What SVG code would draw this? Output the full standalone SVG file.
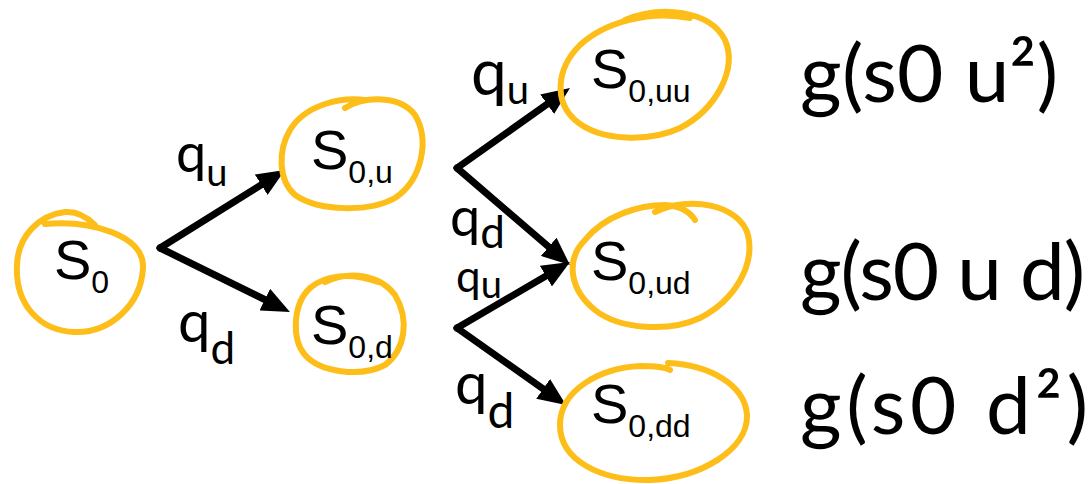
<svg xmlns="http://www.w3.org/2000/svg" width="1090" height="484" viewBox="0 0 1090 484">
  <style>
    .ring { fill: none; stroke: #FEBE1A; stroke-width: 6; stroke-linecap: round; stroke-linejoin: round; }
    .st { font-family: "Liberation Sans", Arial, sans-serif; font-size: 56px; fill: #000; }
    .sub { font-size: 32px; }
    .edge { stroke: #000; stroke-width: 7; stroke-linecap: round; fill: none; marker-end: url(#head); }
    .hand { font-family: "Lato", "DejaVu Sans", sans-serif; font-weight: 400; fill: #000; }
  </style>
  <defs>
    <marker id="head" markerUnits="userSpaceOnUse" markerWidth="28" markerHeight="24" refX="10" refY="12" orient="auto">
      <path d="M0,0 L28,12 L0,24 z" fill="#000"/>
    </marker>
  </defs>
  <rect width="1090" height="484" fill="#fff"/>

  <!-- connectors -->
  <g id="connectors">
    <line class="edge" x1="160" y1="248" x2="269.7" y2="179.5"/>
    <line class="edge" x1="160" y1="248" x2="273.8" y2="304"/>
    <line class="edge" x1="457" y1="168" x2="555.3" y2="98.4"/>
    <line class="edge" x1="457" y1="168" x2="556.3" y2="253.3"/>
    <line class="edge" x1="457" y1="328" x2="554.5" y2="271.1"/>
    <line class="edge" x1="457" y1="328" x2="551.3" y2="394.6"/>
  </g>

  <!-- branch probabilities -->
  <g id="edge-labels" class="hand">
    <text x="176" y="172" font-size="54">q<tspan font-size="38" dy="14">u</tspan></text>
    <text x="178" y="342" font-size="58">q<tspan font-size="44" dy="22">d</tspan></text>
    <text x="471" y="95" font-size="64">q<tspan font-size="40" dy="9">u</tspan></text>
    <text x="450" y="236" font-size="54">q<tspan font-size="44" dy="12">d</tspan></text>
    <text x="456" y="292" font-size="44">q<tspan font-size="38" dy="6">u</tspan></text>
    <text x="455" y="404" font-size="58">q<tspan font-size="48" dy="24">d</tspan></text>
  </g>

  <!-- nodes -->
  <g id="node-s0">
    <path class="ring" d="M45 224 C90 220,145 235,143 268 C141 305,110 333,75 332 C40 331,15 305,17 265 C18 235,40 215,65 212 C78 211,88 218,95 225"/>
    <text class="st" x="54" y="279">S<tspan class="sub" dy="14">0</tspan></text>
  </g>
  <g id="node-s0u">
    <path class="ring" d="M345 108 C365 96,400 95,415 115 C430 140,422 180,395 198 C370 212,320 212,295 195 C278 180,278 150,290 130 C305 105,340 97,365 100"/>
    <text class="st" x="311" y="169">S<tspan class="sub" dy="14">0,u</tspan></text>
  </g>
  <g id="node-s0d">
    <path class="ring" d="M325 282 C350 270,380 275,395 295 C410 320,405 350,385 365 C360 378,320 372,305 355 C292 340,292 305,310 288 C325 275,350 272,378 282"/>
    <text class="st" x="311" y="344">S<tspan class="sub" dy="14">0,d</tspan></text>
  </g>
  <g id="node-s0uu">
    <path class="ring" d="M625 20 C660 5,710 10,725 40 C738 70,715 110,680 128 C650 142,600 142,575 120 C555 102,555 70,580 45 C605 22,650 10,690 18"/>
    <text class="st" x="591" y="88">S<tspan class="sub" dy="14">0,uu</tspan></text>
  </g>
  <g id="node-s0ud">
    <path class="ring" d="M655 212 C690 195,740 205,748 235 C755 265,735 300,700 318 C670 332,620 330,595 310 C570 290,565 260,585 240 C605 215,640 205,665 205 C680 206,690 212,695 220"/>
    <text class="st" x="591" y="280">S<tspan class="sub" dy="14">0,ud</tspan></text>
  </g>
  <g id="node-s0dd">
    <path class="ring" d="M668 363 C710 365,745 385,747 415 C748 450,700 478,650 480 C600 481,560 460,560 425 C560 390,600 368,640 366 C655 366,665 367,670 370"/>
    <text class="st" x="591" y="423">S<tspan class="sub" dy="14">0,dd</tspan></text>
  </g>

  <!-- payoffs -->
  <g id="payoffs" class="hand">
    <text x="800" y="102" font-size="80" textLength="258" lengthAdjust="spacing">g(s0 u²)</text>
    <text x="800" y="300" font-size="80" textLength="285" lengthAdjust="spacing">g(s0 u d)</text>
    <text x="800" y="434" font-size="80" textLength="288" lengthAdjust="spacing">g(s0 d²)</text>
  </g>
</svg>
